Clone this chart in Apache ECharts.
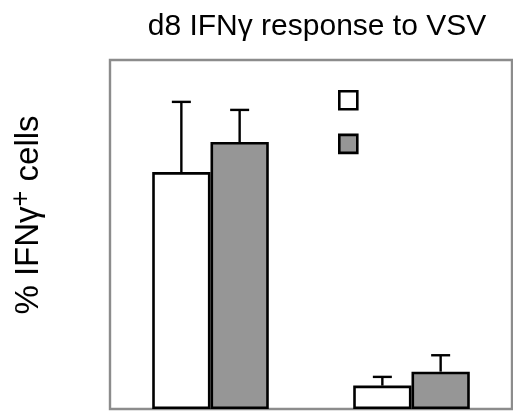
<!DOCTYPE html>
<html><head><meta charset="utf-8">
<script src="https://cdn.jsdelivr.net/npm/echarts@6/dist/echarts.min.js"></script>
<style>html,body{margin:0;padding:0;background:#fff}#c{width:513px;height:412px}</style>
</head><body><div id="c"></div>
<script>
var categories = ['A', 'B'];
var seriesNames = ['group1', 'group2'];
var whiteValues = [67.9, 6.7];
var whiteErrors = [20.1, 2.5];
var grayValues = [76.5, 10.7];
var grayErrors = [9.2, 4.7];

var FONT = 'Liberation Sans, Arial, sans-serif';
var chart = echarts.init(document.getElementById('c'));
var GAP = 0.42;
function errSeries(values, errors, side) {
  var data = values.map(function (v, i) { return [i, v, v + errors[i]]; });
  return {
    type: 'custom',
    silent: true,
    z: 1,
    renderItem: function (params, api) {
      var i = api.value(0);
      var band = api.size([1, 0])[0];
      var bw = band * (1 - GAP) / 2;
      var base = api.coord([i, api.value(1)]);
      var top = api.coord([i, api.value(2)]);
      var x = base[0] + side * bw / 2;
      var cap = 9.5;
      var st = { stroke: '#000', lineWidth: 2.4 };
      return { type: 'group', children: [
        { type: 'line', shape: { x1: x, y1: base[1], x2: x, y2: top[1] }, style: st },
        { type: 'line', shape: { x1: x - cap, y1: top[1], x2: x + cap, y2: top[1] }, style: st }
      ]};
    },
    data: data
  };
}
chart.setOption({
  animation: false,
  textStyle: { fontFamily: FONT },
  title: {
    text: 'd8 IFNγ response to VSV',
    left: 312, top: 7, textAlign: 'center',
    textStyle: { fontSize: 30, fontWeight: 'normal', color: '#000', fontFamily: FONT }
  },
  legend: {
    orient: 'vertical', left: 338, top: 90, padding: 0, itemWidth: 18, itemHeight: 18, itemGap: 23,
    icon: 'rect',
    formatter: function () { return ''; },
    data: seriesNames,
    itemStyle: { borderColor: '#000', borderWidth: 2.6 }
  },
  graphic: [{
    type: 'text', x: 29, y: 215, rotation: Math.PI / 2,
    style: {
      text: '{a|% IFNγ}{s|+}{a| cells}',
      align: 'center', verticalAlign: 'middle',
      rich: {
        a: { fontSize: 33, fill: '#000', fontFamily: FONT },
        s: { fontSize: 27, fill: '#000', fontFamily: FONT, verticalAlign: 'top', padding: [0, 0, 14, 0] }
      }
    }
  }],
  grid: { left: 110, right: 1, top: 60, bottom: 3, show: true, borderColor: '#8c8c8c', borderWidth: 2.4 },
  xAxis: {
    type: 'category', data: categories,
    axisLine: { show: false }, axisTick: { show: false }, axisLabel: { show: false }
  },
  yAxis: {
    type: 'value', min: 0, max: 100,
    axisLine: { show: false }, axisTick: { show: false }, axisLabel: { show: false }, splitLine: { show: false }
  },
  series: [
    { name: seriesNames[0], type: 'bar', data: whiteValues, barGap: '0%', barCategoryGap: (GAP * 100) + '%',
      itemStyle: { color: '#ffffff', borderColor: '#000', borderWidth: 2.6 }, z: 2 },
    { name: seriesNames[1], type: 'bar', data: grayValues, barGap: '0%', barCategoryGap: (GAP * 100) + '%',
      itemStyle: { color: '#969696', borderColor: '#000', borderWidth: 2.6 }, z: 2 },
    errSeries(whiteValues, whiteErrors, -1),
    errSeries(grayValues, grayErrors, 1)
  ]
});
</script></body></html>
